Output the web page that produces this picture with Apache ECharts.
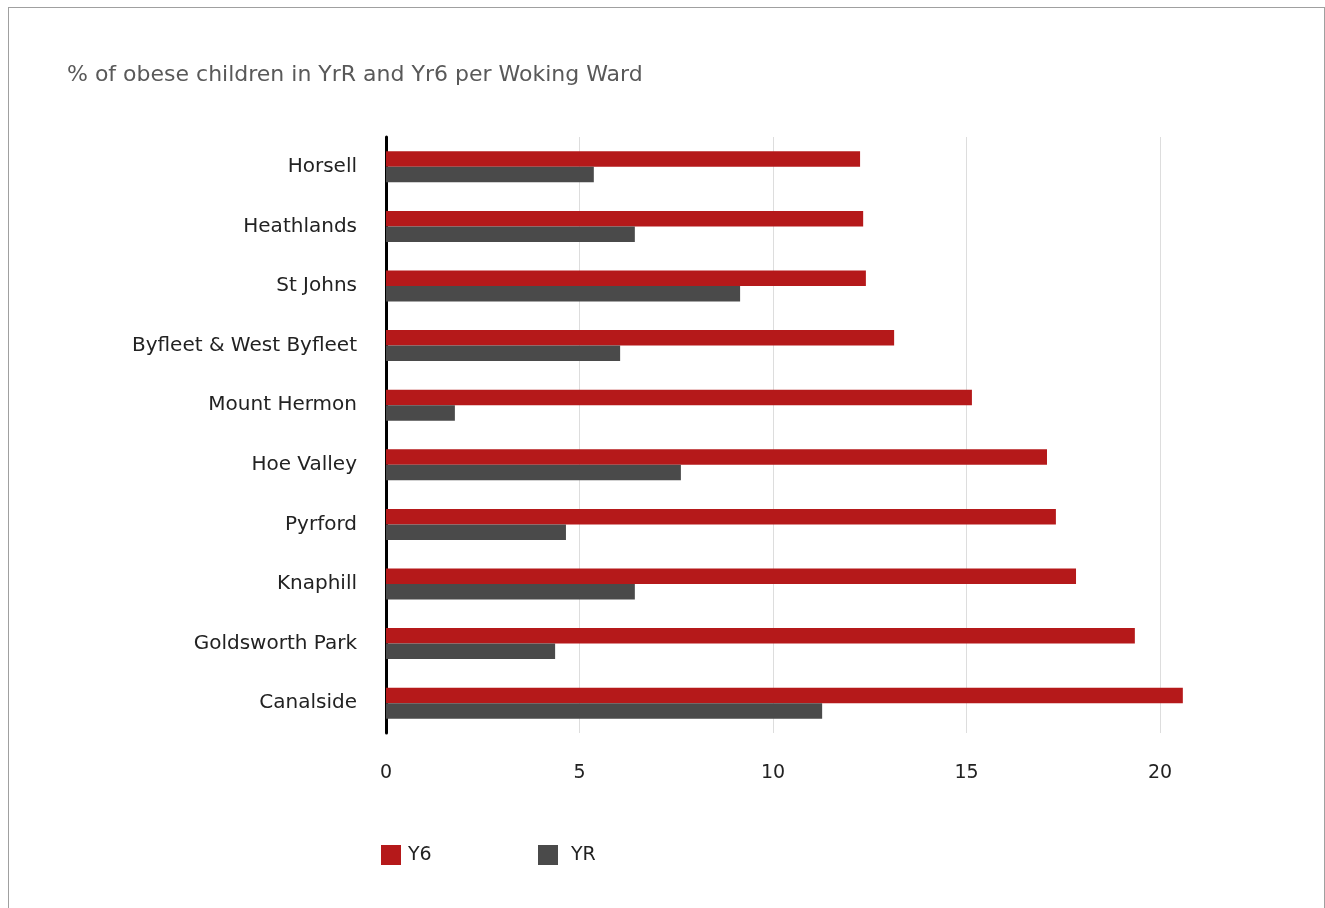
<!DOCTYPE html>
<html>
<head>
<meta charset="utf-8">
<script src="https://cdn.jsdelivr.net/npm/echarts@6/dist/echarts.min.js"></script>
<style>
html,body{margin:0;padding:0;background:#fff;}
#frame{position:absolute;left:8px;top:7px;width:1317px;height:960px;border:1px solid #a0a0a0;box-sizing:border-box;}
#chart{position:absolute;left:0;top:0;width:1325px;height:908px;}
</style>
</head>
<body>
<div id="frame"></div>
<div id="chart"></div>
<script>
const title = "% of obese children in YrR and Yr6 per Woking Ward";
const wards = ["Horsell","Heathlands","St Johns","Byfleet & West Byfleet","Mount Hermon","Hoe Valley","Pyrford","Knaphill","Goldsworth Park","Canalside"];
const y6 = [12.25, 12.33, 12.40, 13.13, 15.14, 17.08, 17.31, 17.83, 19.35, 20.59];
const yr = [5.37, 6.43, 9.15, 6.05, 1.78, 7.62, 4.65, 6.43, 4.37, 11.27];
const seriesNames = ["Y6", "YR"];

const FONT = "DejaVu Sans";
const chart = echarts.init(document.getElementById('chart'), null, {renderer:'canvas'});
chart.setOption({
  animation:false,
  textStyle:{fontFamily:FONT},
  title:{text:title, left:62, top:59, textStyle:{fontFamily:FONT, fontSize:22, fontWeight:'normal', color:'#595959'}},
  legend:[
    {data:[seriesNames[0]], left:376, top:840, itemWidth:20, itemHeight:20, icon:'rect',
     textStyle:{fontFamily:FONT, fontSize:19, color:'#222', padding:[0,0,0,2]}},
    {data:[seriesNames[1]], left:533, top:840, itemWidth:20, itemHeight:20, icon:'rect',
     textStyle:{fontFamily:FONT, fontSize:19, color:'#222', padding:[0,0,0,8]}}
  ],
  grid:{left:386, top:137, width:851.4, height:596, containLabel:false},
  xAxis:{type:'value', min:0, max:22, interval:5,
    axisLine:{show:false}, axisTick:{show:false},
    axisLabel:{showMaxLabel:false, margin:31, fontFamily:FONT, fontSize:19, color:'#222'},
    splitLine:{show:true, showMaxLine:false, lineStyle:{color:'#dddddd', width:1}}},
  yAxis:{type:'category', data:wards, inverse:true,
    axisLine:{show:true, lineStyle:{color:'#000', width:3}}, axisTick:{show:false},
    axisLabel:{margin:29, fontFamily:FONT, fontSize:20, color:'#222'}},
  series:[
    {name:seriesNames[0], type:'bar', data:y6, barWidth:15.5, barGap:'0%', itemStyle:{color:'#b5191a'}},
    {name:seriesNames[1], type:'bar', data:yr, barWidth:15.5, barGap:'0%', itemStyle:{color:'#4a4a4a'}}
  ]
});
</script>
</body>
</html>
